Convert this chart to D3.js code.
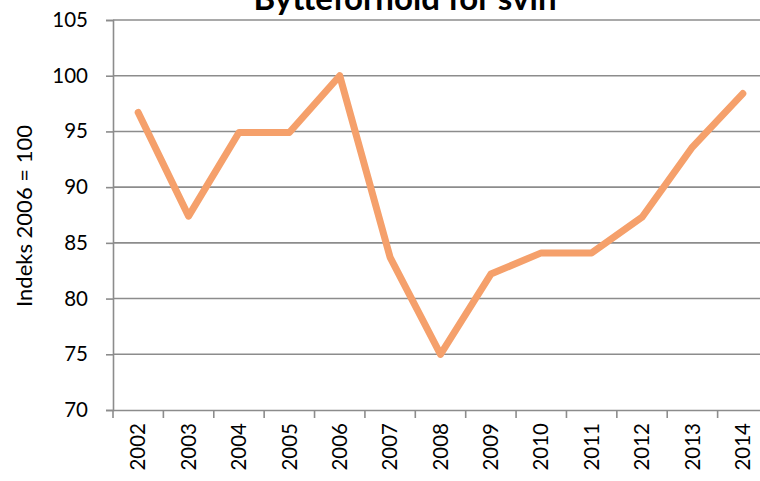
<!DOCTYPE html>
<html><head><meta charset="utf-8">
<script src="https://cdn.jsdelivr.net/npm/d3@7"></script>
<style>body{margin:0;background:#fff;overflow:hidden}svg{display:block}text{font-family:Lato,"Open Sans",sans-serif;fill:#000}</style>
</head><body>
<script>
const years = ["2002","2003","2004","2005","2006","2007","2008","2009","2010","2011","2012","2013","2014"];
const values = [96.7,87.4,94.9,94.9,100.0,83.7,75.0,82.2,84.1,84.1,87.3,93.6,98.4];
const yTicks = [70,75,80,85,90,95,100,105];
const title = "Bytteforhold for svin";
const yTitle = "Indeks 2006 = 100";

const W=760,H=481;
const svg=d3.select("body").append("svg").attr("width",W).attr("height",H);
const mLeft=113, mRight=768, mTop=20, mBottom=410;
const x=d3.scaleBand().domain(years).range([mLeft,mRight]);
const y=d3.scaleLinear().domain([70,105]).range([mBottom,mTop]);

svg.append("g").selectAll("line").data(yTicks.filter(d=>d>70)).join("line")
  .attr("x1",mLeft).attr("x2",mRight).attr("y1",d=>y(d)).attr("y2",d=>y(d))
  .attr("stroke","#8c8c8c").attr("stroke-width",1.6);

const ya=svg.append("g").attr("transform",`translate(${mLeft},0)`)
  .call(d3.axisLeft(y).tickValues(yTicks).tickSize(7).tickPadding(18).tickFormat(d3.format("d")));
ya.select(".domain").attr("stroke","#8c8c8c").attr("stroke-width",1.6);
ya.selectAll(".tick line").attr("stroke","#8c8c8c").attr("stroke-width",1.6);
ya.selectAll(".tick text").attr("font-size",20.5).attr("font-family","Lato,sans-serif").attr("fill","#000");

const xa=svg.append("g").attr("transform",`translate(0,${mBottom})`)
  .call(d3.axisBottom(x).tickSize(0));
xa.select(".domain").attr("stroke","#8c8c8c").attr("stroke-width",1.6);
xa.selectAll(".tick text").attr("font-size",20.5).attr("font-family","Lato,sans-serif").attr("fill","#000")
  .attr("transform","rotate(-90)").attr("text-anchor","end").attr("dx","-13px").attr("dy","0.35em").attr("y",0);
const bounds=[...years.map(d=>x(d)),mRight];
svg.append("g").selectAll("line").data(bounds).join("line")
  .attr("x1",d=>d).attr("x2",d=>d).attr("y1",mBottom).attr("y2",mBottom+8)
  .attr("stroke","#8c8c8c").attr("stroke-width",1.6);

const line=d3.line().x((d,i)=>x(years[i])+x.bandwidth()/2).y(d=>y(d));
svg.append("path").datum(values).attr("d",line).attr("fill","none")
  .attr("stroke","#F5A06B").attr("stroke-width",7).attr("stroke-linecap","round").attr("stroke-linejoin","round");

svg.append("text").attr("x",405).attr("y",10).attr("text-anchor","middle")
  .attr("font-size",33).attr("font-weight","bold").text(title);
svg.append("text").attr("transform","translate(32,216) rotate(-90)").attr("text-anchor","middle")
  .attr("font-size",22).text(yTitle);
</script>
</body></html>
